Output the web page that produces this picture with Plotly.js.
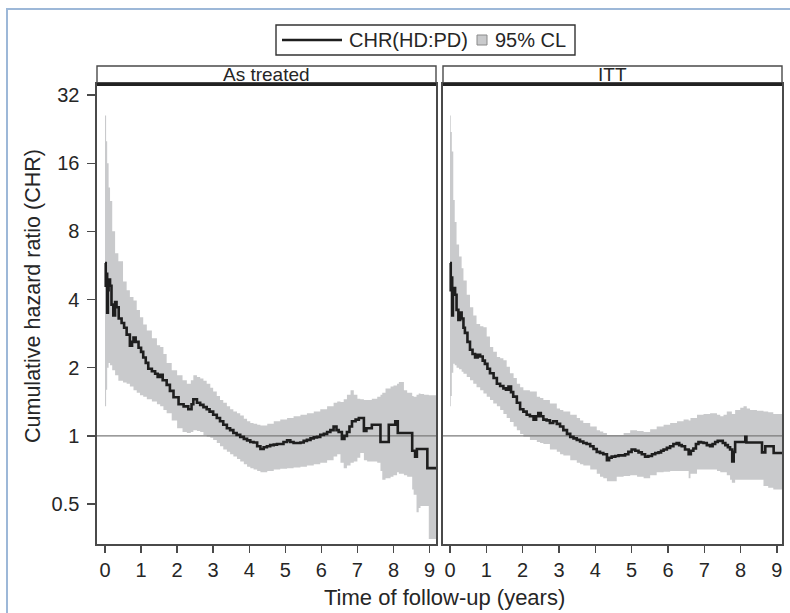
<!DOCTYPE html>
<html>
<head>
<meta charset="utf-8">
<script src="https://cdn.plot.ly/plotly-3.0.1.min.js"></script>
<style>html,body{margin:0;padding:0;background:#fff;}#chart{width:790px;height:613px;}</style>
</head>
<body>
<div id="chart"></div>
<script>
// ---------- DATA ----------
const panelNames = ["As treated", "ITT"];
const legendLabels = ["CHR(HD:PD)", "95% CL"];
const xTickVals = [0,1,2,3,4,5,6,7,8,9];
const yTickVals = [0.5, 1, 2, 4, 8, 16, 32];
const yTickText = ["0.5", "1", "2", "4", "8", "16", "32"];
const xTitle = "Time of follow-up (years)";
const yTitle = "Cumulative hazard ratio (CHR)";

// As treated: CHR step line
const atT = [0,0.02,0.04,0.06,0.08,0.10,0.14,0.18,0.23,0.28,0.32,0.38,0.46,0.53,0.6,0.69,0.75,0.79,0.85,0.93,1.0,1.06,1.13,1.2,1.3,1.39,1.46,1.53,1.6,1.71,1.8,1.9,2.04,2.18,2.31,2.4,2.45,2.55,2.64,2.73,2.82,2.9,3.0,3.1,3.19,3.28,3.38,3.47,3.56,3.65,3.75,3.85,3.94,4.03,4.12,4.22,4.31,4.4,4.49,4.58,4.68,4.77,4.86,4.95,5.05,5.14,5.23,5.33,5.42,5.51,5.6,5.7,5.79,5.88,5.97,6.07,6.16,6.25,6.34,6.42,6.48,6.57,6.64,6.71,6.78,6.85,6.95,7.04,7.12,7.18,7.25,7.31,7.4,7.5,7.6,7.64,7.75,7.87,7.95,8.05,8.12,8.19,8.3,8.42,8.52,8.6,8.65,8.7,8.8,8.94,9.0,9.19];
const atCHR = [5.8,4.6,5.2,3.5,4.4,4.9,4.6,3.8,3.4,3.9,3.7,3.3,3.15,3.0,2.8,2.5,2.6,2.72,2.6,2.45,2.35,2.22,2.1,1.98,1.93,1.88,1.82,1.86,1.76,1.68,1.58,1.48,1.38,1.35,1.31,1.38,1.45,1.40,1.37,1.34,1.31,1.28,1.24,1.2,1.16,1.12,1.08,1.06,1.03,1.01,0.99,0.97,0.955,0.94,0.935,0.9,0.875,0.89,0.9,0.91,0.915,0.92,0.92,0.94,0.955,0.94,0.93,0.93,0.935,0.95,0.96,0.975,0.985,0.99,1.01,1.02,1.04,1.06,1.10,1.06,1.04,0.97,1.0,1.04,1.1,1.16,1.18,1.2,1.2,1.05,1.08,1.08,1.12,1.12,1.12,0.94,0.94,1.12,1.12,1.16,1.03,1.03,1.03,1.03,0.86,0.81,0.875,0.875,0.875,0.72,0.72,0.72];

// As treated: 95% confidence limits
const atBandT = [0,0.03,0.06,0.1,0.14,0.2,0.28,0.37,0.5,0.6,0.69,0.79,0.88,0.97,1.06,1.16,1.3,1.44,1.53,1.62,1.71,1.85,2.0,2.15,2.27,2.38,2.45,2.55,2.64,2.73,2.82,2.92,3.0,3.1,3.19,3.28,3.38,3.47,3.56,3.66,3.75,3.85,3.94,4.03,4.12,4.22,4.31,4.5,4.68,4.86,5.05,5.23,5.42,5.6,5.79,5.97,6.16,6.34,6.44,6.53,6.62,6.71,6.81,6.9,7.0,7.08,7.18,7.27,7.4,7.55,7.64,7.69,7.78,7.92,8.0,8.1,8.15,8.29,8.38,8.52,8.56,8.64,8.7,8.75,8.85,8.94,8.98,9.19];
const atUpper = [26,20,16,12.5,10.9,8.0,6.4,5.9,4.8,4.4,4.1,3.96,3.6,3.34,3.1,2.92,2.7,2.51,2.47,2.3,2.1,1.95,1.85,1.76,1.70,1.76,1.85,1.82,1.79,1.75,1.70,1.63,1.57,1.5,1.44,1.40,1.35,1.31,1.28,1.26,1.23,1.19,1.16,1.14,1.13,1.12,1.11,1.13,1.16,1.18,1.2,1.22,1.24,1.26,1.28,1.31,1.35,1.40,1.42,1.41,1.45,1.52,1.59,1.52,1.46,1.45,1.44,1.44,1.46,1.49,1.52,1.55,1.62,1.65,1.67,1.70,1.73,1.59,1.55,1.50,1.49,1.52,1.54,1.53,1.52,1.52,1.51,1.51];
const atLower = [1.35,1.6,2.0,2.1,2.05,1.95,1.85,1.75,1.72,1.70,1.65,1.59,1.55,1.51,1.49,1.45,1.42,1.38,1.35,1.30,1.26,1.17,1.08,1.04,1.03,1.04,1.06,1.05,1.04,1.01,0.99,0.98,0.96,0.93,0.90,0.87,0.85,0.83,0.81,0.79,0.77,0.75,0.73,0.72,0.71,0.70,0.69,0.70,0.71,0.715,0.72,0.725,0.73,0.74,0.75,0.76,0.78,0.81,0.83,0.76,0.72,0.74,0.76,0.77,0.80,0.84,0.78,0.77,0.77,0.76,0.70,0.64,0.65,0.66,0.67,0.69,0.68,0.67,0.66,0.58,0.55,0.46,0.48,0.49,0.49,0.49,0.35,0.35];

// ITT: CHR step line
const ittT = [0,0.02,0.04,0.06,0.08,0.1,0.14,0.18,0.23,0.28,0.32,0.37,0.41,0.48,0.55,0.62,0.69,0.76,0.83,0.9,0.96,1.03,1.1,1.2,1.29,1.38,1.47,1.54,1.61,1.68,1.74,1.84,1.93,2.02,2.11,2.2,2.3,2.37,2.43,2.5,2.57,2.66,2.75,2.84,2.94,3.03,3.12,3.22,3.31,3.4,3.49,3.58,3.67,3.76,3.86,3.95,4.04,4.13,4.22,4.32,4.38,4.45,4.55,4.64,4.73,4.82,4.91,5.0,5.1,5.19,5.28,5.37,5.46,5.56,5.65,5.74,5.81,5.88,5.97,6.06,6.15,6.24,6.31,6.38,6.47,6.57,6.63,6.7,6.77,6.84,6.91,6.98,7.07,7.16,7.23,7.3,7.37,7.44,7.51,7.58,7.65,7.71,7.77,7.81,7.85,7.95,8.08,8.13,8.16,8.26,8.35,8.45,8.52,8.59,8.68,8.77,8.86,8.91,9.0,9.14];
const ittCHR = [5.8,4.4,5.0,3.4,4.2,4.5,4.2,3.6,3.25,3.5,3.3,3.0,2.85,2.6,2.4,2.3,2.22,2.28,2.24,2.15,2.08,1.98,1.89,1.80,1.70,1.66,1.62,1.60,1.65,1.56,1.49,1.40,1.31,1.28,1.24,1.22,1.18,1.22,1.26,1.22,1.18,1.17,1.14,1.16,1.13,1.10,1.06,1.02,0.99,0.975,0.96,0.945,0.93,0.92,0.90,0.875,0.85,0.84,0.83,0.78,0.80,0.81,0.815,0.82,0.82,0.83,0.85,0.87,0.86,0.845,0.83,0.81,0.815,0.83,0.84,0.845,0.86,0.87,0.885,0.90,0.92,0.93,0.91,0.90,0.87,0.83,0.86,0.88,0.92,0.94,0.935,0.93,0.91,0.90,0.92,0.94,0.95,0.95,0.93,0.91,0.89,0.87,0.77,0.85,0.94,0.94,0.94,0.99,0.935,0.935,0.935,0.935,0.935,0.845,0.90,0.90,0.90,0.84,0.84,0.84];

// ITT: 95% confidence limits
const ittBandT = [0,0.02,0.05,0.09,0.13,0.18,0.25,0.32,0.37,0.46,0.55,0.64,0.73,0.83,0.92,1.01,1.1,1.19,1.29,1.38,1.47,1.56,1.65,1.75,1.84,1.93,2.02,2.2,2.39,2.48,2.57,2.75,2.94,3.03,3.12,3.31,3.49,3.58,3.67,3.86,4.04,4.13,4.22,4.32,4.59,4.78,4.96,5.15,5.33,5.51,5.69,5.88,6.06,6.25,6.43,6.57,6.62,6.8,6.98,7.16,7.35,7.44,7.53,7.62,7.71,7.76,7.85,7.99,8.08,8.17,8.26,8.45,8.63,8.76,8.9,9.14];
const ittUpper = [26,22,18,11,8.8,7.0,6.2,5.5,4.85,4.2,3.7,3.4,3.12,3.05,3.02,2.75,2.47,2.35,2.23,2.2,2.16,2.02,1.89,1.80,1.70,1.64,1.59,1.57,1.49,1.47,1.44,1.39,1.32,1.30,1.28,1.24,1.20,1.17,1.14,1.10,1.06,1.045,1.03,1.01,1.01,1.03,1.06,1.05,1.04,1.07,1.10,1.12,1.14,1.16,1.18,1.17,1.20,1.24,1.25,1.26,1.24,1.22,1.24,1.28,1.28,1.25,1.30,1.33,1.35,1.32,1.30,1.29,1.28,1.27,1.25,1.24];
const ittLower = [1.35,1.5,1.9,2.08,2.05,2.0,1.97,1.92,1.88,1.82,1.76,1.70,1.64,1.59,1.54,1.49,1.44,1.39,1.35,1.30,1.25,1.20,1.15,1.10,1.06,1.02,0.99,0.96,0.94,0.93,0.92,0.87,0.85,0.83,0.82,0.78,0.76,0.75,0.74,0.71,0.68,0.66,0.65,0.63,0.66,0.665,0.67,0.66,0.65,0.67,0.69,0.695,0.70,0.70,0.70,0.65,0.68,0.71,0.71,0.71,0.70,0.69,0.69,0.67,0.64,0.62,0.64,0.64,0.64,0.64,0.64,0.64,0.60,0.59,0.58,0.58];

const refValue = 1;

// ---------- LAYOUT GEOMETRY ----------
const W = 790, H = 613;
const L = 97, R = 782, T = 84, B = 544;
const pw = R - L, ph = B - T;
const px = v => (v - L) / pw;     // pixel -> paper x
const py = v => (B - v) / ph;     // pixel -> paper y

const FONT = "Liberation Sans, Arial, Helvetica, sans-serif";
const TXT = "#262626";
const FRAME = "#4a4a4a";
const BAND = "#c9cacc";

function bandTraces(t, lo, hi, xa, ya) {
  return [
    {x: t, y: lo, xaxis: xa, yaxis: ya, mode: "lines", line: {width: 0, shape: "hv"}, showlegend: false, hoverinfo: "skip"},
    {x: t, y: hi, xaxis: xa, yaxis: ya, mode: "lines", line: {width: 0, shape: "hv"}, fill: "tonexty", fillcolor: BAND, showlegend: false, hoverinfo: "skip"}
  ];
}
function refTrace(xa, ya) {
  return {x: [-1, 10], y: [refValue, refValue], xaxis: xa, yaxis: ya, mode: "lines", line: {color: "#7a7a7a", width: 1.2}, showlegend: false, hoverinfo: "skip"};
}
function lineTrace(t, v, xa, ya) {
  return {x: t, y: v, xaxis: xa, yaxis: ya, mode: "lines", line: {color: "#1e1e1e", width: 2.6, shape: "hv"}, showlegend: false};
}

const data = [
  ...bandTraces(atBandT, atLower, atUpper, "x", "y"),
  refTrace("x", "y"),
  lineTrace(atT, atCHR, "x", "y"),
  ...bandTraces(ittBandT, ittLower, ittUpper, "x2", "y2"),
  refTrace("x2", "y2"),
  lineTrace(ittT, ittCHR, "x2", "y2")
];

const yRange = [Math.log10(0.333), Math.log10(35.8)];
const xCommon = {
  tickvals: xTickVals, ticks: "outside", ticklen: 7, tickwidth: 1.4, tickcolor: FRAME,
  showline: true, mirror: true, linecolor: FRAME, linewidth: 1.6,
  showgrid: false, zeroline: false, ticklabelstandoff: 0,
  tickfont: {family: FONT, size: 20, color: TXT}
};

const shapes = [
  // outer light blue frame
  {type: "rect", xref: "paper", yref: "paper", x0: px(7), x1: px(900), y0: py(9), y1: py(800), line: {color: "#9db8d8", width: 2}, fillcolor: "rgba(0,0,0,0)", layer: "below"},
  // strip boxes
  {type: "rect", xref: "paper", yref: "paper", x0: px(97), x1: px(436), y0: py(66), y1: 1, line: {color: FRAME, width: 1.4}},
  {type: "rect", xref: "paper", yref: "paper", x0: px(443), x1: px(782), y0: py(66), y1: 1, line: {color: FRAME, width: 1.4}},
  {type: "line", xref: "paper", yref: "paper", x0: px(97), x1: px(436), y0: py(84.5), y1: py(84.5), line: {color: "#222", width: 3}},
  {type: "line", xref: "paper", yref: "paper", x0: px(443), x1: px(782), y0: py(84.5), y1: py(84.5), line: {color: "#222", width: 3}},
  // legend box
  {type: "rect", xref: "paper", yref: "paper", x0: px(276), x1: px(575), y0: py(25), y1: py(55), line: {color: "#333", width: 1.4}},
  {type: "line", xref: "paper", yref: "paper", x0: px(282), x1: px(342), y0: py(40), y1: py(40), line: {color: "#1e1e1e", width: 2.6}},
  {type: "rect", xref: "paper", yref: "paper", x0: px(477), x1: px(487), y0: py(35), y1: py(45), line: {color: "#8a8a8a", width: 1}, fillcolor: BAND}
];

const ann = (text, x, y, opts) => Object.assign({text, xref: "paper", yref: "paper", x: px(x), y: py(y), showarrow: false, borderpad: 0, font: {family: FONT, size: 20, color: TXT}}, opts || {});
const annotations = [
  ann(panelNames[0], 266.5, 74.5, {xanchor: "center", yanchor: "middle", font: {family: FONT, size: 19, color: TXT}}),
  ann(panelNames[1], 612.5, 74.5, {xanchor: "center", yanchor: "middle", font: {family: FONT, size: 19, color: TXT}}),
  ann(legendLabels[0], 348, 40, {xanchor: "left", yanchor: "middle"}),
  ann(legendLabels[1], 494, 40, {xanchor: "left", yanchor: "middle"}),
  ann(xTitle, 444, 597, {xanchor: "center", yanchor: "middle", font: {family: FONT, size: 22, color: TXT}}),
  ann(yTitle, 33, 296, {xanchor: "center", yanchor: "middle", textangle: -90, font: {family: FONT, size: 21.5, color: TXT}})
];

const layout = {
  width: W, height: H,
  margin: {l: L, r: W - R, t: T, b: H - B, pad: 0},
  paper_bgcolor: "#fff", plot_bgcolor: "#fff",
  showlegend: false,
  xaxis: Object.assign({}, xCommon, {domain: [0, px(436)], range: [-0.222, 9.18], anchor: "y"}),
  xaxis2: Object.assign({}, xCommon, {domain: [px(443), 1], range: [-0.193, 9.14], anchor: "y2"}),
  yaxis: {type: "log", range: yRange, tickvals: yTickVals, ticktext: yTickText, ticks: "outside", ticklen: 8, tickwidth: 1.4, tickcolor: FRAME,
          showline: true, mirror: true, linecolor: FRAME, linewidth: 1.6, showgrid: false, zeroline: false, ticklabelstandoff: 4,
          tickfont: {family: FONT, size: 20, color: TXT}, anchor: "x"},
  yaxis2: {type: "log", range: yRange, matches: "y", showticklabels: false, ticks: "", showline: true, mirror: true,
           linecolor: FRAME, linewidth: 1.6, showgrid: false, zeroline: false, anchor: "x2"},
  shapes, annotations
};

Plotly.newPlot("chart", data, layout, {displayModeBar: false, staticPlot: true});
</script>
</body>
</html>
